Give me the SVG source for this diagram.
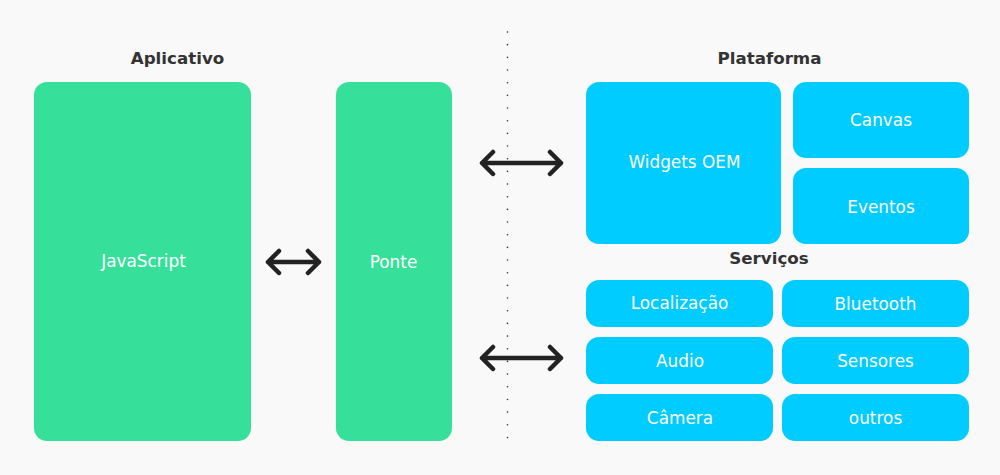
<svg xmlns="http://www.w3.org/2000/svg" width="1000" height="475" viewBox="0 0 1000 475">
<style>
.bg{fill:#f9f9f9}
.g{fill:#36e09a}
.b{fill:#00ccff}
.t{font-family:"DejaVu Sans",sans-serif;font-size:16.9px;fill:#ffffff;text-anchor:middle;dominant-baseline:central}
.h{font-family:"DejaVu Sans",sans-serif;font-size:16.7px;font-weight:bold;fill:#333333;text-anchor:middle}
.a{fill:none;stroke:#222222;stroke-width:4.5;stroke-linecap:round;stroke-linejoin:round}
.d{stroke:#333333;stroke-width:1.6;stroke-dasharray:0 12.67;stroke-linecap:round}
</style>
<rect class="bg" x="0" y="0" width="1000" height="475"/>
<line class="d" x1="507.5" y1="32" x2="507.5" y2="438"/>
<text class="h" x="177.5" y="64">Aplicativo</text>
<text class="h" x="769.5" y="64">Plataforma</text>
<text class="h" x="769" y="264">Serviços</text>
<g id="javascript"><rect class="g" x="34" y="82" width="217" height="359" rx="13"/><text class="t" x="143.5" y="261">JavaScript</text></g>
<g id="ponte"><rect class="g" x="336" y="82" width="116" height="359" rx="13"/><text class="t" x="393.5" y="262">Ponte</text></g>
<g id="widgets"><rect class="b" x="586" y="82" width="195" height="162" rx="13"/><text class="t" x="684.5" y="162">Widgets OEM</text></g>
<g id="canvas"><rect class="b" x="793" y="82" width="176" height="76" rx="13"/><text class="t" x="881" y="120">Canvas</text></g>
<g id="eventos"><rect class="b" x="793" y="168" width="176" height="76" rx="13"/><text class="t" x="881" y="207">Eventos</text></g>
<g id="localizacao"><rect class="b" x="586" y="280" width="187" height="47" rx="13"/><text class="t" x="679.5" y="303">Localização</text></g>
<g id="bluetooth"><rect class="b" x="782" y="280" width="187" height="47" rx="13"/><text class="t" x="875.5" y="304">Bluetooth</text></g>
<g id="audio"><rect class="b" x="586" y="337" width="187" height="47" rx="13"/><text class="t" x="680" y="361">Audio</text></g>
<g id="sensores"><rect class="b" x="782" y="337" width="187" height="47" rx="13"/><text class="t" x="875.5" y="361">Sensores</text></g>
<g id="camera"><rect class="b" x="586" y="394" width="187" height="47" rx="13"/><text class="t" x="680" y="418">Câmera</text></g>
<g id="outros"><rect class="b" x="782" y="394" width="187" height="47" rx="13"/><text class="t" x="875.5" y="418">outros</text></g>
<g id="connectors">
<path class="a" d="M482 163H561M493 152L482 163L493 174M550 152L561 163L550 174"/>
<path class="a" d="M268 262H319M279 251L268 262L279 273M308 251L319 262L308 273"/>
<path class="a" d="M482 358H561M493 347L482 358L493 369M550 347L561 358L550 369"/>
</g>
</svg>
